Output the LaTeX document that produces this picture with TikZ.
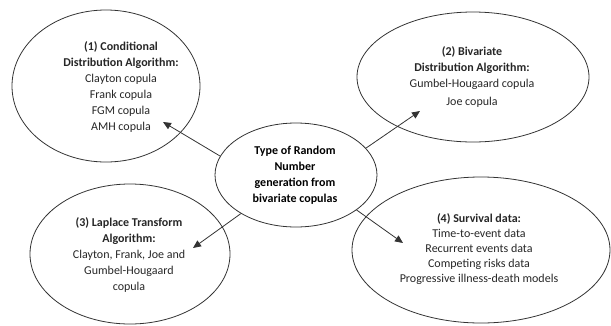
\documentclass[tikz,border=0pt]{standalone}
\usepackage{fontspec}
\setmainfont{Carlito}
\usetikzlibrary{shapes.geometric,arrows.meta}
\begin{document}
\begin{tikzpicture}[x=1pt,y=-1pt,
  oval/.style={draw=black!80,line width=0.8pt,ellipse,inner sep=0pt},
  txt/.style={align=center,inner sep=0pt,font=\fontsize{12}{16}\selectfont,text=black!85},
  arr/.style={draw=black!80,line width=0.8pt,-{Triangle[length=8pt,width=7pt]}}]
\useasboundingbox (0,0) rectangle (611,325);
\node[oval,minimum width=188pt,minimum height=152pt] (e1) at (106,86) {};
\node[oval,minimum width=232pt,minimum height=130pt] (e2) at (473,77) {};
\node[oval,minimum width=200pt,minimum height=140pt] (e3) at (130,254) {};
\node[oval,minimum width=258pt,minimum height=146pt] (e4) at (481,250) {};
\node[oval,minimum width=162pt,minimum height=104pt] (c) at (296,175) {};
\node[txt] (t1) at (121,87) {\textbf{(1) Conditional}\\\textbf{Distribution Algorithm:}\\Clayton copula\\Frank copula\\FGM copula\\AMH copula};
\node[txt] (t2) at (472,77) {\textbf{(2) Bivariate}\\\textbf{Distribution Algorithm:}\\Gumbel-Hougaard copula\\[2pt]Joe copula};
\node[txt] (t3) at (129,255) {\textbf{(3) Laplace Transform}\\\textbf{Algorithm:}\\Clayton, Frank, Joe and\\Gumbel-Hougaard\\copula};
\node[txt,font=\fontsize{12}{15}\selectfont] (t4) at (479,249) {\textbf{(4) Survival data:}\\Time-to-event data\\Recurrent events data\\Competing risks data\\Progressive illness-death models};
\node[txt,text=black] (tc) at (295,175) {\textbf{Type of Random}\\\textbf{Number}\\\textbf{generation from}\\\textbf{bivariate copulas}};
\coordinate (a1) at (163,122);
\coordinate (a2) at (420,111);
\coordinate (a3) at (193,248);
\coordinate (a4) at (403,243);
\draw[arr] (c.166) -- (a1);
\draw[arr] (c.21) -- (a2);
\draw[arr] (c.215) -- (a3);
\draw[arr] (c.330) -- (a4);
\end{tikzpicture}
\end{document}
